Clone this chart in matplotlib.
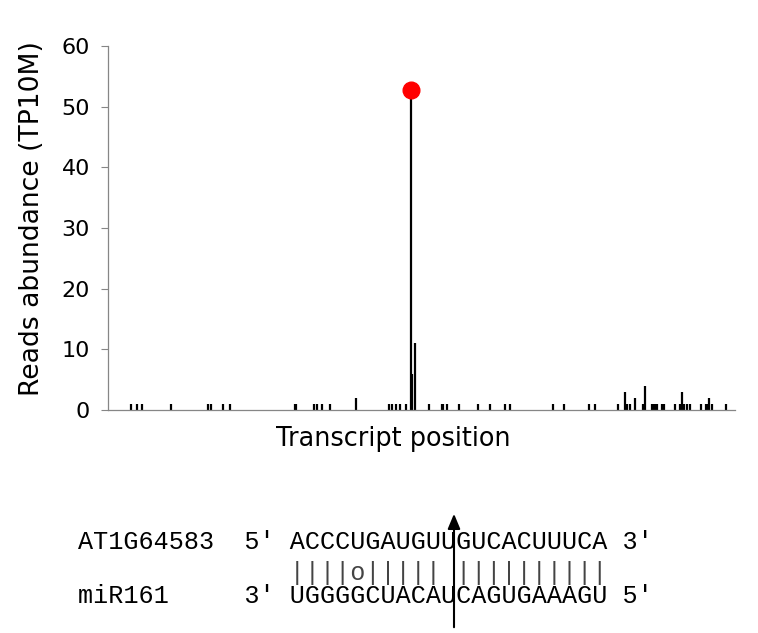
import numpy as np
import matplotlib
matplotlib.use('Agg')
import matplotlib.pyplot as plt

# ── Degradome reads along the transcript ──
positions = [36, 46, 54, 100, 159, 165, 183, 194, 298, 300, 328, 334, 341, 354,
             395, 448, 453, 460, 465, 476, 483, 485, 489, 512, 532, 535, 540,
             560, 590, 610, 633, 641, 710, 728, 767, 776, 813, 824, 827, 832,
             840, 853, 857, 868, 871, 874, 876, 884, 887, 904, 913, 915, 919,
             924, 929, 945, 953, 955, 958, 964, 986]
abundance = [1, 1, 1, 1, 1, 1, 1, 1, 1, 1, 1, 1, 1, 1,
             2, 1, 1, 1, 1, 1, 52.7, 6, 11, 1, 1, 1, 1,
             1, 1, 1, 1, 1, 1, 1, 1, 1, 1, 3, 1, 1,
             2, 1, 4, 1, 1, 1, 1, 1, 1, 1, 1, 3, 1,
             1, 1, 1, 1, 1, 2, 1, 1]
transcript_len = 1000
y_ticks = [0, 10, 20, 30, 40, 50, 60]

# ── Target / miRNA alignment ──
align_lines = [
    "AT1G64583  5' ACCCUGAUGUUGUCACUUUCA 3'",
    "              ||||o||||| ||||||||||",
    "miR161     3' UGGGGCUACAUCAGUGAAAGU 5'",
]

plt.rcParams['font.family'] = ['DejaVu Sans']
fig = plt.figure(figsize=(7.58, 6.33), dpi=100)
ax = fig.add_axes([108 / 758, 1 - 410 / 633, 627 / 758, 364 / 633])

ax.vlines(positions, 0, abundance, color='black', linewidth=1.6, zorder=2)
peak = int(np.argmax(abundance))
ax.plot(positions[peak], abundance[peak], 'o', color='#FF0000',
        markersize=12, zorder=3)

ax.set_xlim(0, transcript_len)
ax.set_ylim(0, 60)
ax.set_yticks(y_ticks)
ax.set_xticks([])
ax.tick_params(axis='y', direction='out', length=5, width=0.8,
               color='#868686', labelsize=16, pad=8)
for s in ['top', 'right']:
    ax.spines[s].set_visible(False)
for s in ['left', 'bottom']:
    ax.spines[s].set_color('#868686')
    ax.spines[s].set_linewidth(0.9)

ax.set_xlabel('Transcript position', fontsize=18.4)
ax.xaxis.set_label_coords((393 - 108) / 627, -0.045)
ax.set_ylabel('Reads abundance (TP10M)', fontsize=19.2)
ax.yaxis.set_label_coords(-0.10, 0.527)

# alignment text
mono = dict(family='Liberation Mono', fontsize=18.1, ha='left')
fig.text(78 / 758, 1 - 549 / 633, align_lines[0], va='baseline', **mono)
fig.text(78 / 758, 1 - 573 / 633, align_lines[1], va='center', color='#444444', **mono)
fig.text(78 / 758, 1 - 603 / 633, align_lines[2], va='baseline', **mono)

# cleavage site arrow
ax.annotate('', xy=(454 / 758, 1 - 511 / 633), xytext=(454 / 758, 1 - 630 / 633),
            xycoords='figure fraction', textcoords='figure fraction',
            arrowprops=dict(arrowstyle='-|>,head_width=0.25,head_length=0.6',
                            mutation_scale=15, lw=1.5, color='black'),
            annotation_clip=False)

plt.savefig('out.png', dpi=100)
plt.close('all')
